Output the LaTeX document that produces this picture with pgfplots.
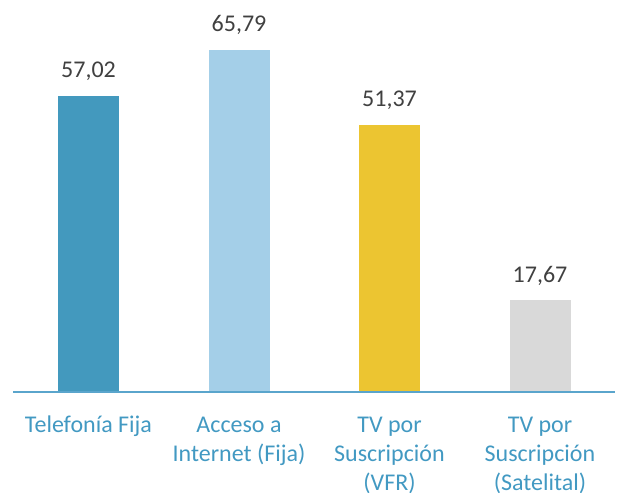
\documentclass[border=0pt]{standalone}
\usepackage{fontspec}
\setmainfont{Carlito}
\usepackage{pgfplots}
\pgfplotsset{compat=1.18}

\definecolor{fija}{HTML}{4399BE}
\definecolor{internet}{HTML}{A4CFE8}
\definecolor{vfr}{HTML}{ECC531}
\definecolor{sat}{HTML}{D9D9D9}
\definecolor{axisline}{HTML}{5AA5CC}
\definecolor{cattext}{HTML}{4299C2}
\definecolor{valtext}{HTML}{404040}

\begin{document}
\begin{tikzpicture}
\begin{axis}[
  at={(6.625pt,50pt)}, anchor=south west,
  scale only axis,
  width=301pt, height=196pt,
  xmin=-0.5, xmax=3.5,
  ymin=0, ymax=75.4,
  axis y line=none,
  axis x line*=bottom,
  x axis line style={-, draw=axisline, line width=1pt},
  axis on top,
  major tick length=0pt,
  ytick=\empty,
  xtick={0,1,2,3},
  xticklabels={
    {\strut Telefonía Fija},
    {\strut Acceso a\\Internet (Fija)},
    {\strut TV por\\Suscripción\\(VFR)},
    {\strut TV por\\Suscripción\\(Satelital)}},
  xticklabel style={anchor=north, inner sep=0pt, yshift=-9.8pt,
    align=center, text=cattext, font=\fontsize{12}{14.5}\selectfont},
  ybar, bar width=30.5pt, bar shift=0pt,
  point meta=explicit symbolic,
  nodes near coords,
  every node near coord/.append style={anchor=base, yshift=9pt, inner sep=0pt,
    text=valtext, font=\fontsize{12}{14.5}\selectfont},
]
\addplot[draw=none, fill=fija] coordinates {(0,57.02)[57,02]};
\addplot[draw=none, fill=internet] coordinates {(1,65.79)[65,79]};
\addplot[draw=none, fill=vfr] coordinates {(2,51.37)[51,37]};
\addplot[draw=none, fill=sat] coordinates {(3,17.67)[17,67]};
\end{axis}
\pgfresetboundingbox
\useasboundingbox (0,0) rectangle (309.5pt,246pt);
\end{tikzpicture}
\end{document}
